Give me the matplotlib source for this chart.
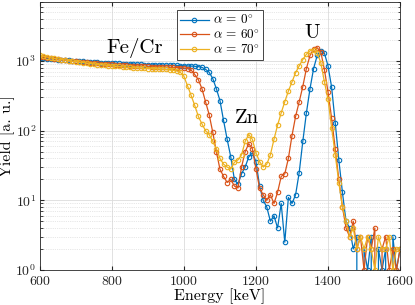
import numpy as np
import matplotlib
matplotlib.use('Agg')
import matplotlib.pyplot as plt
from matplotlib.ticker import LogLocator, NullFormatter

plt.rcParams['font.family'] = 'cmr10'
plt.rcParams['mathtext.fontset'] = 'cm'
plt.rcParams['axes.formatter.use_mathtext'] = True
plt.rcParams['axes.unicode_minus'] = False

# energy axis, keV
energy = np.arange(600, 1601, 10)

# alpha = 0 deg
yield_0 = [1100, 1090, 1080, 1070, 1060, 1050, 1040, 1030, 1020, 1010,
           1000, 990, 985, 975, 970, 960, 955, 950, 945, 940,
           935, 930, 925, 920, 915, 910, 905, 900, 895, 890,
           885, 880, 878, 875, 872, 870, 868, 865, 862, 860,
           855, 850, 845, 840, 830, 810, 760, 690, 560, 400,
           270, 140, 75, 42, 20, 17, 24, 30, 42, 48,
           36, 16, 10, 8, 5, 6, 4, 9, 2.5, 11,
           9, 12, 25, 70, 180, 400, 780, 1200, 1400, 1300,
           850, 420, 130, 38, 13, 5, 4, 2, 3, 0,
           2, 1, 3, 0, 2, 1, 2, 0, 3, 1, 2]

# alpha = 60 deg
yield_60 = [1150, 1130, 1110, 1090, 1070, 1055, 1040, 1025, 1010, 1000,
            990, 980, 970, 960, 950, 940, 930, 920, 910, 900,
            895, 890, 880, 870, 865, 860, 855, 850, 845, 840,
            835, 830, 828, 825, 822, 820, 815, 810, 805, 800,
            795, 780, 740, 640, 540, 400, 260, 170, 95, 50,
            28, 22, 18, 20, 16, 15, 30, 50, 65, 55,
            28, 15, 12, 10, 12, 9, 13, 22, 24, 40,
            85, 160, 260, 430, 780, 1200, 1500, 1550, 1350, 750,
            360, 150, 55, 20, 8, 4, 3, 5, 2, 3,
            1, 3, 2, 4, 0, 2, 3, 1, 2, 1, 2]

# alpha = 70 deg
yield_70 = [1200, 1170, 1140, 1110, 1090, 1070, 1050, 1030, 1010, 995,
            980, 965, 950, 935, 920, 905, 890, 880, 870, 860,
            850, 845, 835, 825, 815, 810, 800, 795, 790, 785,
            780, 775, 770, 765, 760, 755, 745, 735, 720, 690,
            600, 440, 320, 230, 160, 125, 100, 88, 70, 55,
            40, 33, 30, 28, 35, 38, 45, 70, 88, 75,
            48, 36, 30, 33, 45, 75, 120, 180, 260, 370,
            500, 680, 850, 1050, 1250, 1400, 1450, 1300, 950, 500,
            280, 110, 45, 18, 8, 5, 3, 4, 2, 3,
            2, 3, 2, 1, 3, 2, 2, 3, 1, 2, 2]

labels = [r'$\alpha\,=\,0^{\circ}$', r'$\alpha\,=\,60^{\circ}$', r'$\alpha\,=\,70^{\circ}$']
colors = ['#0072BD', '#D95319', '#EDB120']

fig = plt.figure(figsize=(4.15, 3.05), dpi=100)
ax = fig.add_axes([0.096, 0.115, 0.868, 0.878])

for y, lab, c in zip([yield_0, yield_60, yield_70], labels, colors):
    ax.plot(energy, y, '-o', color=c, lw=0.9, ms=3.2, mfc='none', mew=0.8, label=lab)

ax.set_yscale('log', nonpositive='clip')
ax.set_xlim(600, 1600)
ax.set_ylim(1, 7000)
ax.set_xticks([600, 800, 1000, 1200, 1400, 1600])
ax.yaxis.set_minor_locator(LogLocator(base=10, subs=np.arange(2, 10)))
ax.yaxis.set_minor_formatter(NullFormatter())

ax.grid(True, which='major', color='#dcdcdc', lw=0.6)
ax.grid(True, which='minor', axis='y', color='#d0d0d0', lw=0.5, ls=':')
ax.set_axisbelow(True)
ax.tick_params(which='both', direction='in', top=True, right=True, colors='#262626', labelsize=10)
ax.tick_params(which='major', length=3)
ax.tick_params(which='minor', length=1.8)
ax.tick_params(axis='x', pad=4)
ax.tick_params(axis='y', pad=2.5)
for s in ax.spines.values():
    s.set_color('#262626')
    s.set_linewidth(0.6)

ax.set_xlabel('Energy [keV]', fontsize=11.5, labelpad=0)
ax.set_ylabel('Yield [a. u.]', fontsize=11.5)
ax.yaxis.set_label_coords(-0.07, 0.5)

ax.text(864, 1530, 'Fe/Cr', fontsize=15, ha='center', va='center')
ax.text(1175, 150, 'Zn', fontsize=15, ha='center', va='center')
ax.text(1355, 2500, 'U', fontsize=15, ha='center', va='center')

leg = ax.legend(loc='upper center', bbox_to_anchor=(0.5, 0.995), fontsize=9.5,
                fancybox=False, framealpha=1, edgecolor='#262626',
                handlelength=2.2, borderpad=0.25, labelspacing=0.05, handletextpad=0.3)
leg.get_frame().set_linewidth(0.6)

fig.savefig('out.png', dpi=100)
